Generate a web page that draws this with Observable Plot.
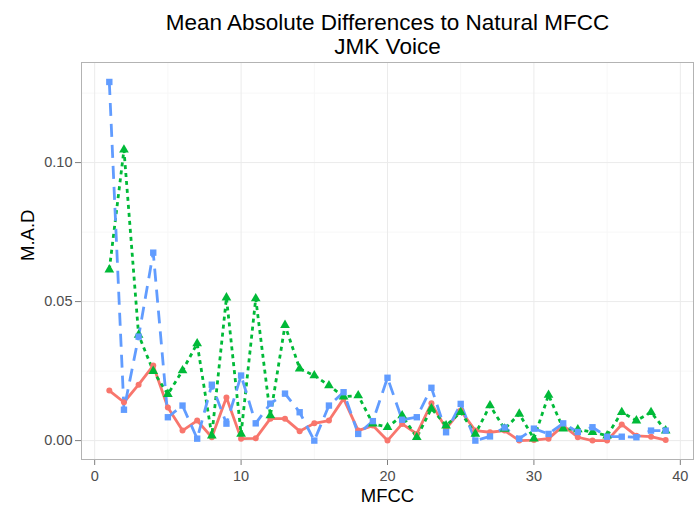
<!DOCTYPE html>
<html>
<head>
<meta charset="utf-8">
<script src="https://cdn.jsdelivr.net/npm/d3@7"></script>
<script src="https://cdn.jsdelivr.net/npm/@observablehq/plot@0.6"></script>
<style>
  html, body { margin: 0; padding: 0; background: #fff; }
  svg { display: block; }
</style>
</head>
<body>
<div id="chart"></div>
<script>
const mfcc = [1,2,3,4,5,6,7,8,9,10,11,12,13,14,15,16,17,18,19,20,21,22,23,24,25,26,27,28,29,30,31,32,33,34,35,36,37,38,39];
const seriesA = [0.018,0.0138,0.0201,0.027,0.0119,0.0036,0.0072,0.0012,0.0155,0.0007,0.0008,0.0079,0.0079,0.0034,0.0062,0.0072,0.0151,0.0036,0.0054,0.0,0.006,0.0024,0.0134,0.0043,0.0108,0.0036,0.003,0.0036,0.0,0.0002,0.0007,0.0054,0.0012,0.0,0.0,0.0058,0.0017,0.0014,0.0002];
const seriesB = [0.0615,0.1046,0.038,0.025,0.0167,0.0252,0.0349,0.0018,0.0514,0.0024,0.0511,0.009,0.0415,0.0259,0.0234,0.0198,0.0158,0.0162,0.0061,0.0048,0.009,0.0012,0.0115,0.0054,0.0102,0.0024,0.0126,0.0042,0.0096,0.0007,0.0164,0.0043,0.004,0.003,0.0018,0.0102,0.0072,0.0102,0.0036];
const seriesC = [0.129,0.0111,0.0374,0.0676,0.0084,0.0126,0.0007,0.0201,0.0061,0.0234,0.0062,0.0133,0.0169,0.0102,0.0,0.0126,0.0174,0.0024,0.007,0.0226,0.0075,0.0084,0.019,0.003,0.0132,0.0,0.0015,0.0047,0.0007,0.0043,0.0024,0.0062,0.0031,0.0048,0.0014,0.0014,0.0012,0.0036,0.0036];
const xTicks = [0,10,20,30,40];
const xMinor = [5,15,25,35];
const yTicks = [0,0.05,0.10];
const yMinor = [0.025,0.075,0.125];
const titleLines = ["Mean Absolute Differences to Natural MFCC", "JMK Voice"];

const series = [
  {name: "A", values: seriesA, color: "#F8766D", dash: null, symbol: "circle", r: 3},
  {name: "B", values: seriesB, color: "#00BA38", dash: "4,4", symbol: "triangle", r: 3.6},
  {name: "C", values: seriesC, color: "#619CFF", dash: "13,8", symbol: "square", r: 3.6}
];
const rows = (s) => mfcc.map((m, i) => ({mfcc: m, mad: s.values[i]}));

const font = "'Liberation Sans', Arial, Helvetica, sans-serif";
const marks = [
  Plot.ruleX(xMinor, {stroke: "#F7F7F7", strokeWidth: 1}),
  Plot.ruleY(yMinor, {stroke: "#F7F7F7", strokeWidth: 1}),
  Plot.ruleX(xTicks, {stroke: "#EBEBEB", strokeWidth: 1}),
  Plot.ruleY(yTicks, {stroke: "#EBEBEB", strokeWidth: 1}),
  Plot.axisX(xTicks, {tickSize: 6, tickPadding: 5, fontSize: 14.5, color: "#4D4D4D", stroke: "#7F7F7F", label: null}),
  Plot.axisY(yTicks, {tickSize: 6, tickPadding: 3, fontSize: 14.5, color: "#4D4D4D", stroke: "#7F7F7F", tickFormat: d3.format(".2f"), label: null}),
];
for (const s of series) {
  marks.push(Plot.line(rows(s), {x: "mfcc", y: "mad", stroke: s.color, strokeWidth: 2.8, strokeDasharray: s.dash, strokeLinecap: "butt", strokeLinejoin: "round"}));
}
for (const s of series) {
  marks.push(Plot.dot(rows(s), {x: "mfcc", y: "mad", fill: s.color, stroke: "none", symbol: () => s.symbol, r: s.r}));
}
marks.push(Plot.frame({stroke: "#B3B3B3", strokeWidth: 1}));
marks.push(Plot.text([titleLines[0]], {frameAnchor: "top", dy: -48, fontSize: 22.5, fill: "#000"}));
marks.push(Plot.text([titleLines[1]], {frameAnchor: "top", dy: -24, fontSize: 22.5, fill: "#000"}));
marks.push(Plot.text(["MFCC"], {frameAnchor: "bottom", dy: 42, fontSize: 18.5, fill: "#000"}));
marks.push(Plot.text(["M.A.D"], {frameAnchor: "left", dx: -53, rotate: -90, fontSize: 18.5, fill: "#000"}));

const chart = Plot.plot({
  width: 696,
  height: 512,
  marginTop: 62,
  marginBottom: 53,
  marginLeft: 81,
  marginRight: 3,
  style: {fontFamily: font, background: "#fff", overflow: "visible"},
  x: {domain: [-0.9, 40.9]},
  y: {domain: [-0.0068, 0.136]},
  symbol: {type: "identity"},
  marks
});
document.getElementById("chart").append(chart);
</script>
</body>
</html>
